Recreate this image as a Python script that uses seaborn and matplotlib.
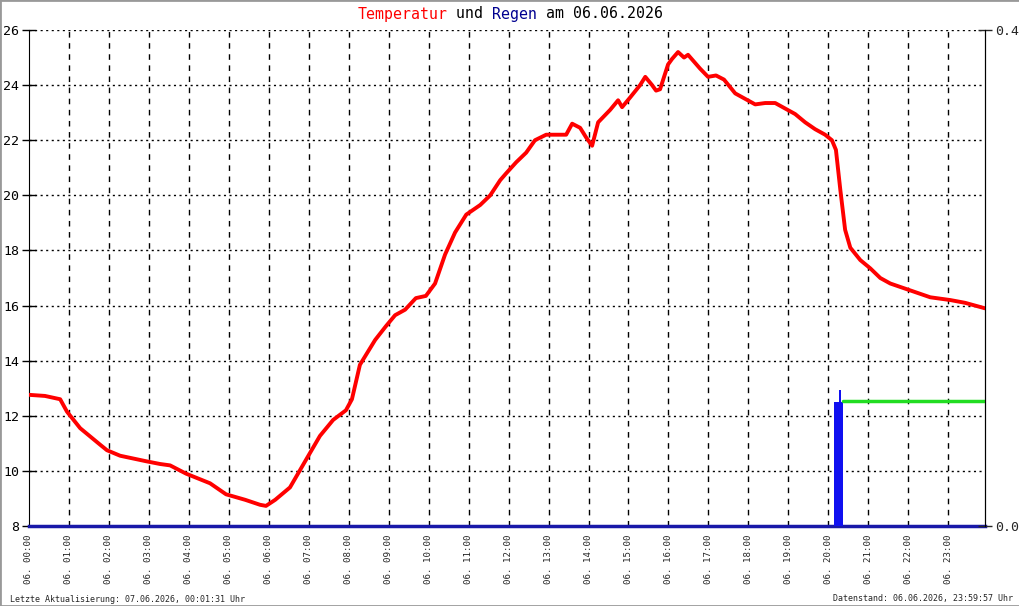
import matplotlib
matplotlib.use("Agg")
import matplotlib.pyplot as plt
import seaborn as sns
import pandas as pd
from matplotlib.patches import Rectangle

# temperature readings (hour of day, degC)
temp_hours = [0.00, 0.40, 0.78, 0.95, 1.28, 1.78, 1.95, 2.28, 2.93, 3.28, 3.53, 3.93,
              4.53, 4.93, 5.41, 5.78, 5.93, 6.16, 6.53, 6.93, 7.28, 7.61, 7.93, 8.08,
              8.28, 8.66, 8.93, 9.16, 9.41, 9.68, 9.93, 10.16, 10.41, 10.66, 10.94,
              11.29, 11.54, 11.79, 11.94, 12.19, 12.44, 12.66, 12.94, 13.19, 13.44,
              13.59, 13.79, 13.94, 14.09, 14.24, 14.54, 14.74, 14.84, 15.04, 15.29,
              15.42, 15.59, 15.69, 15.79, 15.99, 16.09, 16.24, 16.39, 16.49, 16.64,
              16.79, 16.99, 17.19, 17.39, 17.67, 17.92, 18.17, 18.42, 18.67, 18.92,
              19.17, 19.42, 19.67, 19.92, 20.09, 20.19, 20.30, 20.42, 20.55, 20.80,
              21.05, 21.30, 21.55, 22.05, 22.55, 23.05, 23.42, 23.92]
temp_values = [12.76, 12.72, 12.6, 12.15, 11.55, 10.95, 10.75, 10.55, 10.35, 10.25, 10.2, 9.9,
               9.55, 9.15, 8.95, 8.77, 8.73, 8.95, 9.4, 10.4, 11.27, 11.85, 12.2, 12.6,
               13.85, 14.75, 15.25, 15.65, 15.85, 16.27, 16.35, 16.8, 17.85, 18.65, 19.3,
               19.65, 20.0, 20.55, 20.8, 21.2, 21.55, 22.0, 22.2, 22.2, 22.2,
               22.6, 22.45, 22.1, 21.8, 22.65, 23.1, 23.45, 23.2, 23.55, 24.0,
               24.3, 24.0, 23.8, 23.85, 24.75, 24.95, 25.2, 25.0, 25.1, 24.85,
               24.6, 24.3, 24.35, 24.2, 23.7, 23.5, 23.3, 23.35, 23.35, 23.15,
               22.95, 22.65, 22.4, 22.2, 22.0, 21.65, 20.2, 18.75, 18.1, 17.65,
               17.35, 17.0, 16.8, 16.55, 16.3, 16.2, 16.1, 15.9]

# rain (mm)
rain_hours = [20.26, 20.30]
rain_mm = [0.10, 0.11]
rain_sum_hours = [20.37, 23.92]
rain_sum_mm = [0.101, 0.101]

hour_ticks = list(range(24))
hour_labels = ["06. %02d:00" % h for h in hour_ticks]
temp_ticks = [8, 10, 12, 14, 16, 18, 20, 22, 24, 26]

sns.set_style("white")
plt.rcParams["font.family"] = ["DejaVu Sans Mono"]

fig = plt.figure(figsize=(10.2, 6.06), dpi=100)
ax = fig.add_axes([29 / 1020, 80 / 606, 956 / 1020, 496 / 606])

df = pd.DataFrame({"hour": temp_hours, "temp": temp_values})
sns.lineplot(data=df, x="hour", y="temp", ax=ax, color="red", linewidth=2.8, zorder=3)

ax.set_xlim(0, 23.92)
ax.set_ylim(8, 26)
ax.set_xticks(hour_ticks)
ax.set_xticklabels(hour_labels, rotation=90, fontsize=6.6)
ax.set_yticks(temp_ticks)
ax.set_yticklabels([str(t) for t in temp_ticks], fontsize=9.5)
ax.tick_params(axis="y", direction="inout", length=10, width=1, pad=2, colors="black")
ax.tick_params(axis="x", length=0, pad=6)
ax.set_xlabel("")
ax.set_ylabel("")

for t in temp_ticks[1:]:
    ax.axhline(t, color="black", linewidth=1, linestyle=(0, (1.5, 2.5)), zorder=1)
for h in hour_ticks[1:]:
    ax.axvline(h, color="black", linewidth=1, linestyle=(0, (4, 4)), zorder=1)

ax.spines["top"].set_visible(False)
ax.spines["left"].set_color("black")
ax.spines["right"].set_color("black")
ax.spines["bottom"].set_color("#1818a8")
ax.spines["bottom"].set_linewidth(2.5)
ax.spines["bottom"].set_zorder(5)

ax2 = ax.twinx()
ax2.bar(rain_hours[:1], rain_mm[:1], width=0.22, color="#1010f0", linewidth=0, zorder=2)
ax2.bar(rain_hours[1:], rain_mm[1:], width=0.05, color="#1010f0", linewidth=0, zorder=2)
sns.lineplot(x=rain_sum_hours, y=rain_sum_mm, ax=ax2, color="#22dd22", linewidth=2.5)
ax2.set_ylim(0, 0.4)
ax2.set_yticks([0.0, 0.4])
ax2.set_yticklabels(["0.0", "0.4"], fontsize=9.5)
ax2.tick_params(axis="y", direction="inout", length=10, width=1, pad=2)
ax2.set_ylabel("")
for s in ["top", "left", "bottom"]:
    ax2.spines[s].set_visible(False)
ax2.spines["right"].set_color("black")

# title in pieces (monospace, so positions follow the character count)
size = 10.7
cw = size * 100 / 72 * 0.602
pieces = [("Temperatur", "red"), (" und ", "black"), ("Regen", "#000090"), (" am 06.06.2026", "black")]
x0 = 510 - sum(len(p[0]) for p in pieces) * cw / 2
for txt, col in pieces:
    fig.text(x0 / 1020, 1 - 14 / 606, txt, color=col, fontsize=size, ha="left", va="center")
    x0 += len(txt) * cw

fig.text(10 / 1020, 1 - 599 / 606, "Letzte Aktualisierung: 07.06.2026, 00:01:31 Uhr",
         fontsize=6, ha="left", va="center")
fig.text(1013 / 1020, 1 - 599 / 606, "Datenstand: 06.06.2026, 23:59:57 Uhr",
         fontsize=6, ha="right", va="center")

fig.patches.append(Rectangle((0, 0), 1, 1, transform=fig.transFigure, fill=False,
                             edgecolor="#999999", linewidth=2))

fig.savefig("out.png", dpi=100)
